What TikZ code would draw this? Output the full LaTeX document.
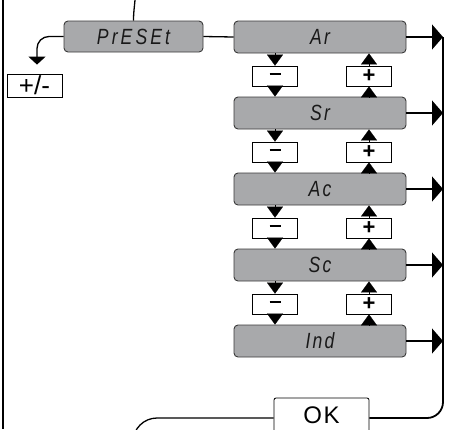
\documentclass[tikz,border=0pt]{standalone}
\usepackage{fontspec}
\setmainfont{Liberation Sans}
\setsansfont{Liberation Sans}
\usetikzlibrary{arrows.meta,positioning}
\definecolor{dispgray}{HTML}{A8A9AB}
\definecolor{edgegray}{HTML}{3A3A3A}
\newfontfamily\segfont[LetterSpace=10,FakeStretch=0.8]{Liberation Sans Italic}
\newcommand{\minussign}{\rule[4pt]{11pt}{2.2pt}}
\begin{document}
\begin{tikzpicture}[x=1pt, y=-1pt, node distance=76pt,
  disp/.style={rectangle, rounded corners=4pt, draw=edgegray, line width=0.9pt, fill=dispgray,
    minimum width=172pt, minimum height=32pt, inner sep=0pt, text=black!90,
    font=\segfont\fontsize{22}{22}\selectfont},
  keybox/.style={rectangle, draw=black, line width=0.8pt, fill=white, minimum width=45pt,
    minimum height=20pt, inner sep=0pt, font=\bfseries\fontsize{22}{22}\selectfont},
  tri/.style={-{Triangle[width=16pt,length=11pt]}, line width=0.1pt},
  bigtri/.style={-{Triangle[width=25pt,length=11pt]}, line width=1.3pt},
  wire/.style={line width=1.3pt}]
  \useasboundingbox (0,0) rectangle (449,429);
  \clip (0,0) rectangle (449,429);
  % frame edge on the left
  \draw[line width=2.4pt] (3,0) -- (3,429);
  % menu entry
  \node (preset) [disp, minimum width=139pt, minimum height=31pt] at (133.5,36.5)
    {\addfontfeature{LetterSpace=14}PrESEt};
  \node (pm) [keybox, minimum width=55pt, minimum height=23pt,
    font=\fontsize{26}{26}\selectfont] at (34.5,85.5) {\raisebox{1pt}{+/-}};
  \coordinate (top) at (135,0);
  % display boxes
  \node (ar) [disp] at (320,37) {Ar};
  \node (sr) [disp, below of=ar] {Sr};
  \node (ac) [disp, below of=sr] {Ac};
  \node (sc) [disp, below of=ac] {Sc};
  \node (ind) [disp, below of=sc] {Ind};
  % minus and plus keys
  \node (m1) [keybox] at (275,76) {\minussign};
  \node (p1) [keybox] at (369,76) {+};
  \node (m2) [keybox] at (275,152) {\minussign};
  \node (p2) [keybox] at (369,152) {+};
  \node (m3) [keybox] at (275,228) {\minussign};
  \node (p3) [keybox] at (369,228) {+};
  \node (m4) [keybox] at (275,304) {\minussign};
  \node (p4) [keybox] at (369,304) {+};
  % confirm key
  \node (ok) [rectangle, rounded corners=2pt, draw=black, line width=0.8pt, fill=white,
    minimum width=95pt, minimum height=40pt, font=\fontsize{24}{24}\selectfont,
    text depth=0pt] at (321.5,418) {\raisebox{5pt}{\addfontfeature{LetterSpace=6}OK}};
  \coordinate (rail) at (443,37);
  \coordinate (drop) at (133,445);
  % Arrows
  \draw[wire] (top) to[out=265,in=90] (preset.north);
  \draw[wire] (preset.east) -- (ar.west);
  \draw[wire, -{Triangle[width=17pt,length=8pt]}, rounded corners=12pt, shorten >=9pt]
    (preset.west) -| ([xshift=2.5pt]pm.north);
  \foreach \a/\b/\m/\p in {ar/sr/m1/p1, sr/ac/m2/p2, ac/sc/m3/p3, sc/ind/m4/p4} {
    \draw[tri] (\a.south -| \m.north) -- (\m.north);
    \draw[tri] (\m.south) -- (\b.north -| \m.south);
    \draw[tri] (\b.north -| \p.south) -- (\p.south);
    \draw[tri] (\p.north) -- (\a.south -| \p.north);
  }
  \foreach \d in {ar, sr, ac, sc, ind}
    \draw[bigtri] (\d.east) -- (\d.east -| rail);
  \draw[line width=1.8pt, rounded corners=16pt] (rail) |- (ok.east);
  \draw[wire, rounded corners=24pt] (ok.west) -| (drop);
\end{tikzpicture}
\end{document}
